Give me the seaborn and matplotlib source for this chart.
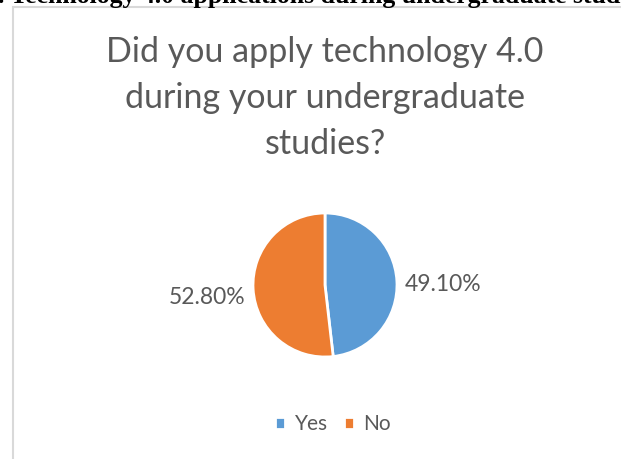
import matplotlib
matplotlib.use("Agg")
import matplotlib.pyplot as plt
import seaborn as sns
from matplotlib.patches import Rectangle

sns.set_theme(style="white")
plt.rcParams['font.family'] = ['Lato', 'DejaVu Sans']

categories = ["Yes", "No"]
values = [49.10, 52.80]
value_labels = ["49.10%", "52.80%"]
title = "Did you apply technology 4.0\nduring your undergraduate\nstudies?"
caption = ". Technology 4.0 applications during undergraduate studies"
colors = ["#5B9BD5", "#ED7D31"]
text_color = "#595959"

W, H = 621, 459
fig = plt.figure(figsize=(W / 100, H / 100), dpi=100)
fig.patch.set_facecolor("white")

# chart frame (partially cropped)
fig.patches.append(Rectangle((13 / W, -0.1), 1.2, 1 - 7 / H + 0.1, transform=fig.transFigure,
                             fill=False, edgecolor="#D9D9D9", linewidth=1.5))

# cropped document caption above chart
fig.text(-2 / W, 1 - 3 / H, caption, ha="left", va="baseline", fontsize=18.5,
         fontweight="bold", family="Liberation Serif", color="black")

cx, cy, r = 325, 285, 72
ax = fig.add_axes([(cx - r) / W, (H - cy - r) / H, 2 * r / W, 2 * r / H])
wedges, texts = ax.pie(values, labels=value_labels, colors=colors, startangle=90,
                       counterclock=False, labeldistance=1.64,
                       wedgeprops=dict(edgecolor="white", linewidth=2),
                       textprops=dict(color=text_color, fontsize=16.5))
for t in texts:
    t.set_ha("center")
    t.set_va("center")
    x, y = t.get_position()
    t.set_position((x, y - 6 / r))
ax.set_xlim(-1, 1)
ax.set_ylim(-1, 1)
ax.set_aspect("equal")
ax.axis("off")

fig.text(cx / W, 1 - 98 / H, title, ha="center", va="center", fontsize=24.5,
         color=text_color, linespacing=1.52)

fig.legend(wedges, categories, loc="center", bbox_to_anchor=(333 / W, 1 - 424 / H),
           ncol=2, frameon=False, handlelength=0.5, handleheight=0.5,
           handletextpad=0.45, columnspacing=0.75, prop=dict(size=15),
           labelcolor=text_color)

fig.savefig("out.png", dpi=100)
